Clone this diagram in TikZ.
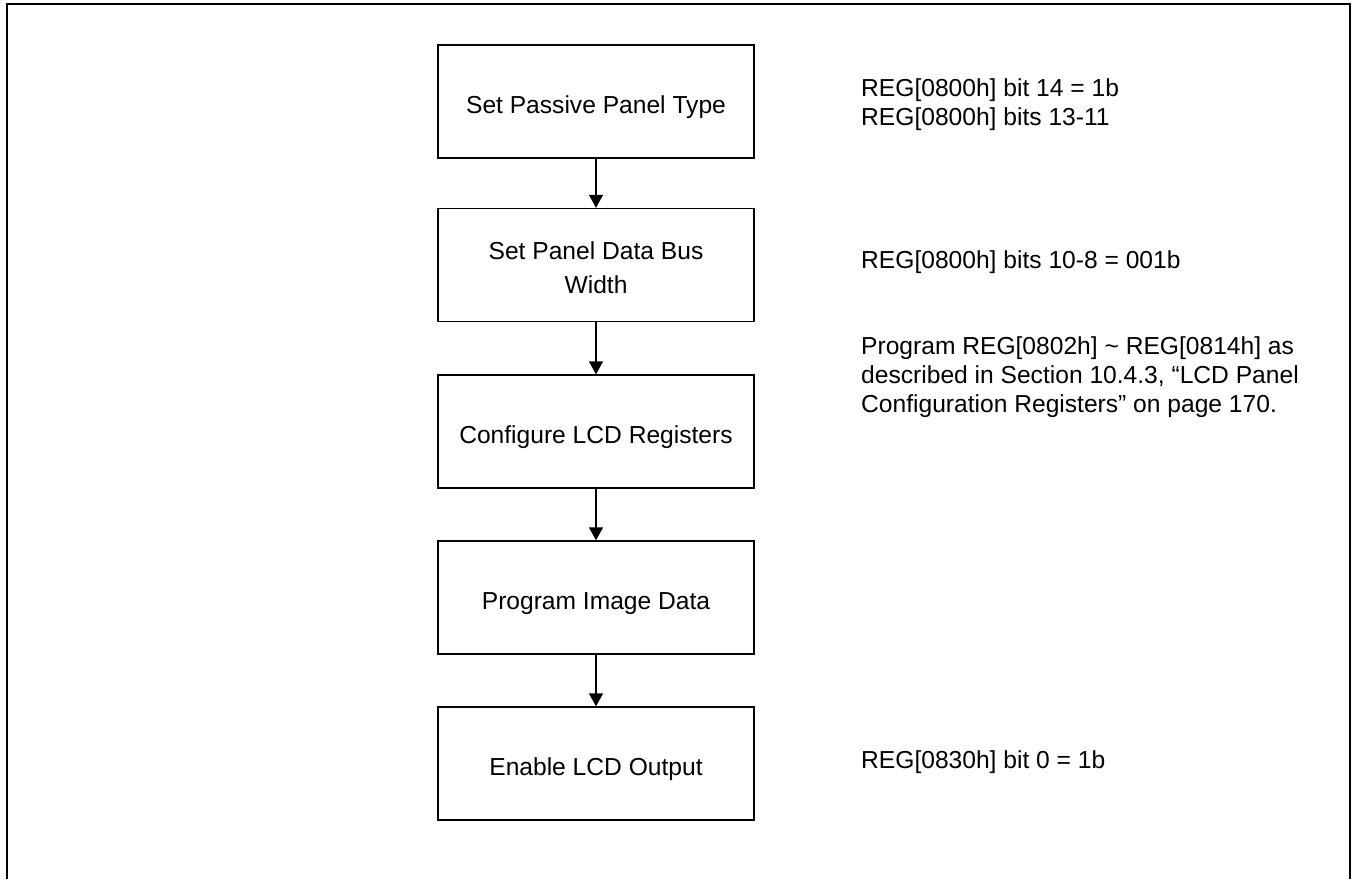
\documentclass[tikz,border=0pt]{standalone}
\usepackage{fontspec}
\setmainfont{Liberation Sans}
\usetikzlibrary{arrows.meta}
\newcommand{\boxtext}[1]{\raisebox{-5pt}[\height][\depth]{\begin{tabular}{@{}c@{}}#1\end{tabular}}}
\begin{document}
\begin{tikzpicture}[x=1pt,y=-1pt,
  stepbox/.style={draw,line width=1.4pt,minimum width=316pt,minimum height=113pt,inner sep=0pt,align=center,
    font=\fontsize{24.6}{34}\selectfont},
  note/.style={anchor=west,align=left,inner sep=0pt,font=\fontsize{24.6}{29}\selectfont},
  flow/.style={line width=1.4pt,-{Triangle[width=14pt,length=13pt]}}]
\useasboundingbox (0,0) rectangle (1356,879);
\draw[line width=2pt] (7.3,879) -- (7.3,4.3) -- (1350.3,4.3) -- (1350.3,879);
\node[stepbox] (b1) at (596,101.5) {\boxtext{Set Passive Panel Type}};
\node[stepbox] (b2) at (596,265) {\boxtext{Set Panel Data Bus\\Width}};
\node[stepbox] (b3) at (596,431.5) {\boxtext{Configure LCD Registers}};
\node[stepbox] (b4) at (596,597.5) {\boxtext{Program Image Data}};
\node[stepbox] (b5) at (596,763.5) {\boxtext{Enable LCD Output}};
\draw[flow] (b1) -- (b2);
\draw[flow] (b2) -- (b3);
\draw[flow] (b3) -- (b4);
\draw[flow] (b4) -- (b5);
\node[note] (n1) at (861,104.5) {REG[0800h] bit 14 = 1b\\REG[0800h] bits 13-11};
\node[note] (n2) at (861,262) {REG[0800h] bits 10-8 = 001b};
\node[note] (n3) at (861,377) {Program REG[0802h] \textasciitilde{} REG[0814h] as\\described in Section 10.4.3, “LCD Panel\\Configuration Registers” on page 170.};
\node[note] (n5) at (861,762) {REG[0830h] bit 0 = 1b};
\end{tikzpicture}
\end{document}
